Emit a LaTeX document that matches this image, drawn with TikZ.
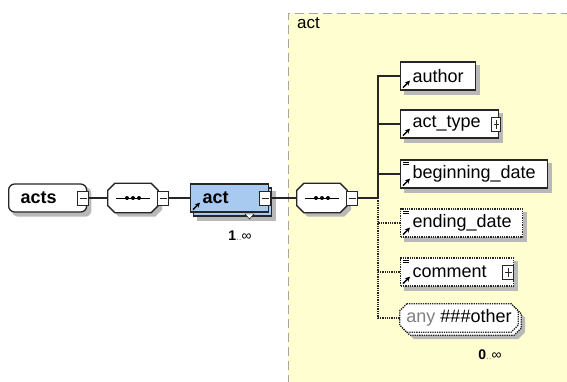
\documentclass[tikz,border=0pt]{standalone}
\usepackage{fontspec}
\setmainfont{Liberation Sans}
\usetikzlibrary{arrows.meta}

\definecolor{panel}{RGB}{255,254,208}
\definecolor{actblue}{RGB}{168,202,240}
\definecolor{shade}{RGB}{185,185,185}

\pgfdeclarelayer{bottom}
\pgfdeclarelayer{back}
\pgfsetlayers{bottom,back,main}

\newcommand\octpath[1]{([xshift=7]#1.north west) -- ([xshift=-7]#1.north east)
  -- ([yshift=-7]#1.north east) -- ([yshift=7]#1.south east) -- ([xshift=-7]#1.south east)
  -- ([xshift=7]#1.south west) -- ([yshift=7]#1.south west) -- ([yshift=-7]#1.north west) -- cycle}

\tikzset{
  edge/.style={line width=1.3pt, draw=black!85},
  box/.style={draw=black!85, line width=1.3pt, fill=white, minimum height=28, inner xsep=12, inner ysep=0,
    anchor=west, align=left, font=\fontsize{18}{20}\selectfont},
  optbox/.style={box, densely dotted},
  seq/.style={minimum width=50, minimum height=29, inner sep=0},
  shadowed/.style={fill=shade, transform canvas={shift={(4,4)}}},
  pm/.style={draw=black!85, line width=1pt, fill=white, minimum width=11, minimum height=14, inner sep=0},
  minus/.style={pm, path picture={
      \draw ([xshift=2]path picture bounding box.west) -- ([xshift=-2]path picture bounding box.east);}},
  plus/.style={pm, path picture={
      \draw ([xshift=2]path picture bounding box.west) -- ([xshift=-2]path picture bounding box.east);
      \draw ([yshift=2.5]path picture bounding box.south) -- ([yshift=-2.5]path picture bounding box.north);}},
  occ/.style={font=\fontsize{14}{16}\selectfont, inner sep=0}
}

\begin{document}
\begin{tikzpicture}[x=1pt, y=-1pt]
\useasboundingbox (0,0) rectangle (567,381);

% panel of the act type
\begin{pgfonlayer}{bottom}
\fill[panel] (288,13) rectangle (570,384);
\draw[gray!70, thick, dash pattern=on 9pt off 5pt] (288,384) -- (288,13) -- (570,13);
\end{pgfonlayer}
\node[anchor=west, font=\fontsize{17}{19}\selectfont, inner sep=0] (paneltitle) at (297,23) {act};

% root and first sequence
\node[box, rounded corners=6, text width=54, font=\fontsize{18}{20}\selectfont\bfseries] (acts) at (8,198) {acts};
\node[minus] (actsminus) at ([xshift=-4]acts.east) {};
\node[seq] (seqa) at (133,198) {};
\node[minus] (seqaminus) at ([xshift=5]seqa.east) {};

% act, repeated
\node[box, fill=actblue, text width=54] (actback) at (193,202) {\phantom{act}};
\node[box, fill=actblue, text width=54, font=\fontsize{18}{20}\selectfont\bfseries] (act) at (190,198) {act};
\node[minus] (actminus) at ([xshift=-4]act.east) {};
\draw[fill=white] (245,214) -- (254,214) -- (249.5,219) -- cycle;
\node[occ] (actocc) at (240,236) {\textbf{1}{\color{gray}\fontsize{10}{12}\selectfont..}∞};

% second sequence
\node[seq] (seqb) at (322,198) {};
\node[minus] (seqbminus) at ([xshift=5]seqb.east) {};
\coordinate (spine) at (378,198);

% children
\node[box, text width=51] (author) at (400,76) {author};
\node[box, text width=74] (acttype) at (400,124) {act\_type};
\node[plus, minimum width=9] (acttypeplus) at ([xshift=-3]acttype.east) {};
\node[box, text width=123] (bdate) at (400,174) {beginning\_date};
\node[optbox, text width=98] (edate) at (400,223) {ending\_date};
\node[optbox, text width=89] (comment) at (400,272) {comment};
\node[plus] (commentplus) at ([xshift=-6]comment.east) {};
\node[seq, minimum width=118, minimum height=28, font=\fontsize{18}{20}\selectfont] (any) at (459,318)
  {{\color{gray}any} \#\#\#other};
\node[occ] (anyocc) at (490,355) {\textbf{0}{\color{gray}\fontsize{10}{12}\selectfont..}∞};

% shadows, and octagons behind the sequences and the wildcard
\begin{pgfonlayer}{back}
\fill[shadowed, rounded corners=6] (acts.north west) rectangle (acts.south east);
\foreach \n in {actback, author, acttype, bdate, edate, comment}
  \fill[shadowed] (\n.north west) rectangle (\n.south east);
\foreach \n in {seqa, seqb} {
  \fill[shadowed] \octpath{\n};
  \draw[edge, fill=white] \octpath{\n};
  \draw[line width=1pt] ([xshift=8]\n.west) -- ([xshift=-8]\n.east);
  \foreach \dx in {-6,0,6} \fill ([xshift=\dx]\n.center) circle (2);
}
\fill[fill=shade, transform canvas={shift={(7,7)}}] \octpath{any};
\draw[edge, densely dotted, fill=white, transform canvas={shift={(3,3)}}] \octpath{any};
\draw[edge, densely dotted, fill=white] \octpath{any};
\end{pgfonlayer}

% reference arrows and simple type marks
\foreach \n in {act, author, acttype, bdate, edate, comment}
  \draw[-{Stealth[length=5pt, width=5pt]}, line width=1.4pt] ([shift={(3,-3)}]\n.south west) -- ++(7,-7);
\foreach \n in {bdate, edate, comment} {
  \draw[line width=0.8pt] ([shift={(3,3)}]\n.north west) -- ++(6,0);
  \draw[line width=0.8pt] ([shift={(3,5.5)}]\n.north west) -- ++(6,0);
}

% connectors
\draw[edge] (actsminus) -- (seqa);
\draw[edge] (seqaminus) -- (act);
\draw[edge] (actminus) -- (seqb);
\draw[edge] (seqbminus) -- (spine);
\draw[edge] (spine) |- (author.west);
\draw[edge] (spine) |- (acttype.west);
\draw[edge] (spine) |- (bdate.west);
\draw[edge, densely dotted] (spine) |- (edate.west);
\draw[edge, densely dotted] (spine) |- (comment.west);
\draw[edge, densely dotted] (spine) |- (any.west);
\end{tikzpicture}
\end{document}
